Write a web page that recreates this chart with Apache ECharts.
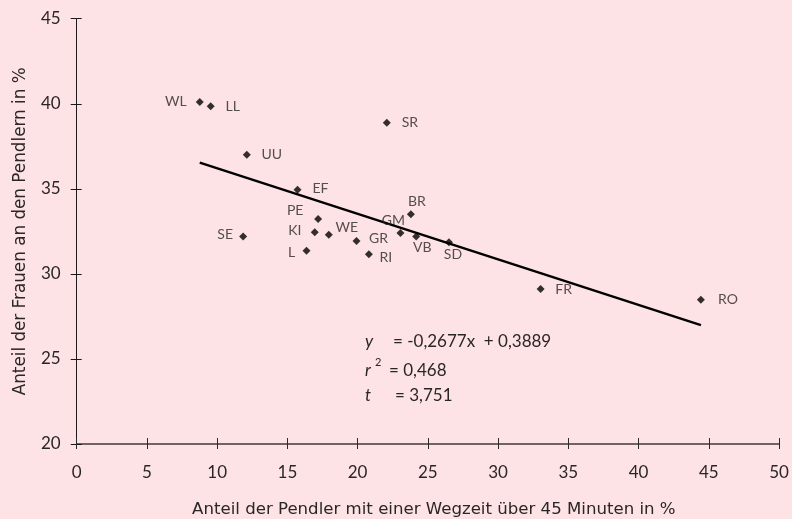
<!DOCTYPE html>
<html>
<head>
<meta charset="utf-8">
<script src="https://cdn.jsdelivr.net/npm/echarts@6/dist/echarts.min.js"></script>
<style>
html,body{margin:0;padding:0;background:#fde3e6;}
#chart{width:792px;height:519px;}
</style>
</head>
<body>
<div id="chart"></div>
<script>
// Data
var regions = ['WL','LL','UU','SR','EF','PE','KI','WE','SE','L','GR','RI','GM','BR','VB','SD','FR','RO'];
var commuteShare = [8.76, 9.54, 12.11, 22.08, 15.72, 17.19, 16.95, 17.95, 11.85, 16.36, 19.92, 20.80, 23.05, 23.79, 24.17, 26.50, 33.03, 44.44];
var womenShare  = [40.10, 39.85, 37.00, 38.89, 34.95, 33.23, 32.45, 32.30, 32.19, 31.36, 31.93, 31.15, 32.40, 33.50, 32.19, 31.86, 29.11, 28.48];
var trendX = [8.76, 44.44];
var trendY = [36.54, 26.99];
var xTicks = [0, 5, 10, 15, 20, 25, 30, 35, 40, 45, 50];
var yTicks = [20, 25, 30, 35, 40, 45];
var eqLines = ['= -0,2677x  + 0,3889', '= 0,468', '= 3,751'];

// Label offsets (style)
var labelOffsets = {
  WL:[-24,-1], LL:[22,0], UU:[25,0], SR:[23,0], EF:[23,-1], PE:[-23,-8], KI:[-20,-2],
  WE:[18,-7], SE:[-18,-2], L:[-15,2], GR:[22,-3], RI:[17,3], GM:[-7,-13], BR:[6,-13],
  VB:[6,11], SD:[4,12], FR:[23,0], RO:[27,0]
};

var FONT = 'Lato';
var NAMEFONT = 'DejaVu Sans';
var TXT = '#2a2626';

var points = regions.map(function(r, i){
  return {
    name: r,
    value: [commuteShare[i], womenShare[i]],
    label: {show:true, position:'inside', offset: labelOffsets[r], formatter: r}
  };
});
var trend = trendX.map(function(x, i){ return [x, trendY[i]]; });

var chart = echarts.init(document.getElementById('chart'), null, {renderer:'canvas'});
var xMin = xTicks[0], xMax = xTicks[xTicks.length-1];
var yMin = yTicks[0], yMax = yTicks[yTicks.length-1];
var xInt = xTicks[1]-xTicks[0], yInt = yTicks[1]-yTicks[0];

chart.setOption({
  backgroundColor: '#fde3e6',
  animation: false,
  grid: {left: 76.7, right: 13, top: 18.7, bottom: 75, containLabel:false, outerBoundsMode:'none'},
  xAxis: [{
    type:'value', min:xMin, max:xMax, interval:xInt, position:'bottom',
    name:'Anteil der Pendler mit einer Wegzeit über 45 Minuten in %',
    nameLocation:'middle', nameGap:57,
    nameTextStyle:{fontFamily:NAMEFONT, fontSize:16.6, color:TXT, padding:[0,0,0,12]},
    axisLine:{show:true, lineStyle:{color:'#6e6464', width:2}},
    axisTick:{show:true, inside:false, length:5, lineStyle:{color:'#2a2a2a', width:1}},
    axisLabel:{fontFamily:FONT, fontSize:17, color:TXT, margin:20},
    splitLine:{show:false}
  },{
    type:'value', min:xMin, max:xMax, interval:xInt, position:'bottom',
    axisLine:{show:false},
    axisTick:{show:true, inside:true, length:6, lineStyle:{color:'#2a2a2a', width:1}},
    axisLabel:{show:false}, splitLine:{show:false}
  }],
  yAxis: [{
    type:'value', min:yMin, max:yMax, interval:yInt, position:'left',
    name:'Anteil der Frauen an den Pendlern in %',
    nameLocation:'middle', nameGap:48, nameRotate:90,
    nameTextStyle:{fontFamily:NAMEFONT, fontSize:16.8, color:TXT},
    axisLine:{show:true, lineStyle:{color:'#1a1a1a', width:1}},
    axisTick:{show:true, inside:false, length:6, lineStyle:{color:'#1a1a1a', width:1}},
    axisLabel:{fontFamily:FONT, fontSize:17, color:TXT, margin:16},
    splitLine:{show:false}
  },{
    type:'value', min:yMin, max:yMax, interval:yInt, position:'left',
    axisLine:{show:false},
    axisTick:{show:true, inside:true, length:5, lineStyle:{color:'#1a1a1a', width:1}},
    axisLabel:{show:false}, splitLine:{show:false}
  }],
  series: [{
    type:'line', data: trend, xAxisIndex:0, yAxisIndex:0,
    symbol:'none', lineStyle:{color:'#000', width:2.5}, z:2, silent:true
  },{
    type:'scatter', data: points, xAxisIndex:0, yAxisIndex:0,
    symbol:'diamond', symbolSize:8,
    itemStyle:{color:'#000'},
    label:{fontFamily:FONT, fontSize:14, color:TXT, align:'center', verticalAlign:'middle'},
    z:3
  }]
});

var eqStyle = {fontFamily:FONT, fontSize:17, fill:TXT};
chart.setOption({
  graphic: [
    {type:'text', left: 365, top: 343-10, style:{text:'y', font:'italic 17px '+FONT, fill:TXT}},
    {type:'text', left: 393, top: 343-10, style:Object.assign({text:eqLines[0]}, eqStyle)},
    {type:'text', left: 365, top: 372-10, style:{text:'r', font:'italic 17px '+FONT, fill:TXT}},
    {type:'text', left: 375, top: 363-6, style:{text:'2', font:'11px '+FONT, fill:TXT}},
    {type:'text', left: 389, top: 372-10, style:Object.assign({text:eqLines[1]}, eqStyle)},
    {type:'text', left: 365, top: 397-10, style:{text:'t', font:'italic 17px '+FONT, fill:TXT}},
    {type:'text', left: 395, top: 397-10, style:Object.assign({text:eqLines[2]}, eqStyle)}
  ]
});
</script>
</body>
</html>
